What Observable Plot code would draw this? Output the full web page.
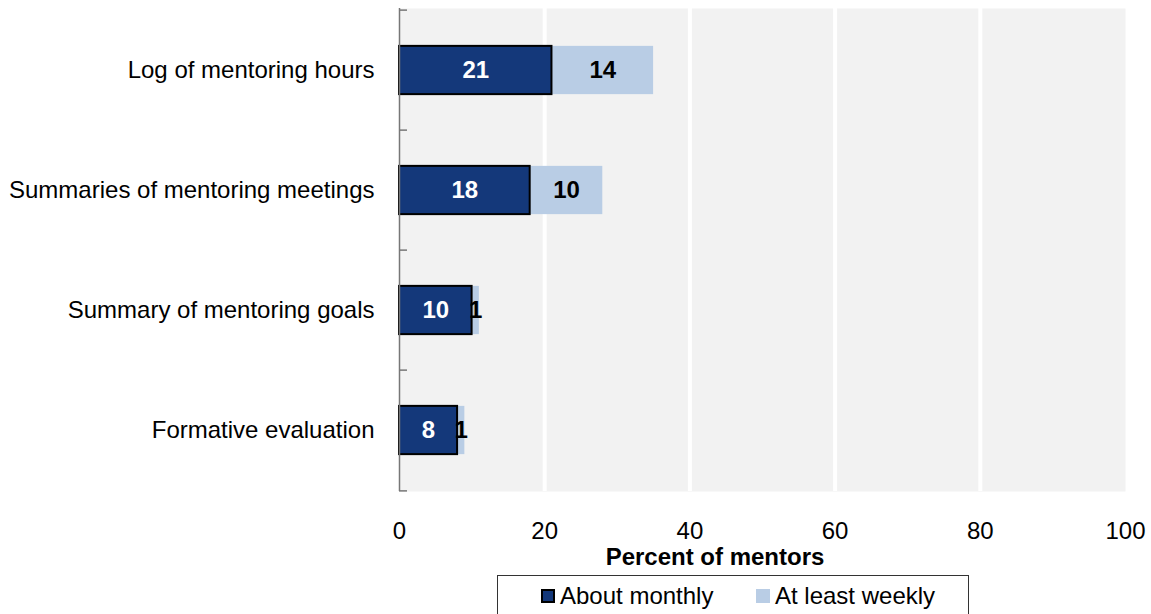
<!DOCTYPE html>
<html>
<head>
<meta charset="utf-8">
<script src="https://cdn.jsdelivr.net/npm/d3@7"></script>
<script src="https://cdn.jsdelivr.net/npm/@observablehq/plot@0.6"></script>
<style>
  html, body { margin: 0; padding: 0; background: #fff; }
  body { width: 1151px; height: 614px; overflow: hidden; font-family: "Liberation Sans", Arial, sans-serif; }
  #legend {
    position: absolute; left: 497px; top: 575px; width: 472px; height: 44px;
    border: 1px solid #333; box-sizing: border-box; background: #fff;
    font-size: 24px; color: #000;
  }
  .item { position: absolute; top: 6px; display: flex; align-items: center; line-height: 28px; }
  .sw { width: 14px; height: 14px; margin-right: 5px; box-sizing: border-box; }
</style>
</head>
<body>
<div id="chart"></div>
<div id="legend">
  <div class="item" style="left:43px"><div class="sw" style="background:#14387a;border:2px solid #000"></div><span>About monthly</span></div>
  <div class="item" style="left:258px"><div class="sw" style="background:#b9cde5"></div><span>At least weekly</span></div>
</div>
<script>
const categories = ["Log of mentoring hours", "Summaries of mentoring meetings", "Summary of mentoring goals", "Formative evaluation"];
const monthly = [21, 18, 10, 8];
const weekly = [14, 10, 1, 1];
const seriesNames = ["About monthly", "At least weekly"];
const xTicks = [0, 20, 40, 60, 80, 100];
const xLabel = "Percent of mentors";

const rows = [];
categories.forEach((c, i) => {
  rows.push({cat: c, series: seriesNames[0], x1: 0, x2: monthly[i], v: monthly[i]});
  rows.push({cat: c, series: seriesNames[1], x1: monthly[i], x2: monthly[i] + weekly[i], v: weekly[i]});
});
const monthlyRows = rows.filter(d => d.series === seriesNames[0]);
const weeklyRows = rows.filter(d => d.series === seriesNames[1]);

const W = 1151, H = 575;
const marginTop = 8, marginBottom = 84;
const step = (H - marginTop - marginBottom) / categories.length;
const inset = (step - 49) / 2;
const FS = 24;

const plot = Plot.plot({
  width: W, height: H,
  marginLeft: 399, marginRight: 26, marginTop, marginBottom,
  style: {fontFamily: "'Liberation Sans', Arial, sans-serif", fontSize: FS + "px", color: "#000", background: "#fff", overflow: "visible"},
  x: {domain: [0, 100], ticks: xTicks, label: null},
  y: {domain: categories, padding: 0, label: null},
  marks: [
    Plot.frame({fill: "#f2f2f2", stroke: null}),
    Plot.ruleX(xTicks.filter(t => t > 0 && t < 100), {stroke: "#fff", strokeWidth: 4}),
    Plot.barX(weeklyRows, {y: "cat", x1: "x1", x2: "x2", fill: "#b9cde5", insetTop: inset, insetBottom: inset}),
    Plot.barX(monthlyRows, {y: "cat", x1: "x1", x2: "x2", fill: "#14387a", stroke: "#000", strokeWidth: 2, insetTop: inset, insetBottom: inset}),
    Plot.text(monthlyRows, {y: "cat", x: d => (d.x1 + d.x2) / 2, text: d => String(d.v), fill: "#fff", fontWeight: "bold", fontSize: FS}),
    Plot.text(weeklyRows, {y: "cat", x: d => (d.x1 + d.x2) / 2, text: d => String(d.v), fill: "#000", fontWeight: "bold", fontSize: FS}),
    Plot.ruleX([0], {stroke: "#777", strokeWidth: 1.5}),
    Plot.ruleY(categories, {y: d => d, x1: 0, x2: 1.1, stroke: "#777", strokeWidth: 1.5, dy: -step / 2}),
    Plot.ruleY(categories.slice(-1), {y: d => d, x1: 0, x2: 1.1, stroke: "#777", strokeWidth: 1.5, dy: step / 2}),
    Plot.axisX({ticks: xTicks, tickSize: 0, tickPadding: 30, fontSize: FS, label: null}),
    Plot.axisY({tickSize: 0, tickPadding: 25, fontSize: FS, label: null})
  ]
});

const svg = d3.select(plot);
svg.append("text")
  .attr("x", 715).attr("y", 557).attr("text-anchor", "middle").attr("dy", "0.35em")
  .attr("font-weight", "bold").attr("font-size", FS).attr("fill", "#000")
  .text(xLabel);

document.getElementById("chart").appendChild(plot);
</script>
</body>
</html>
